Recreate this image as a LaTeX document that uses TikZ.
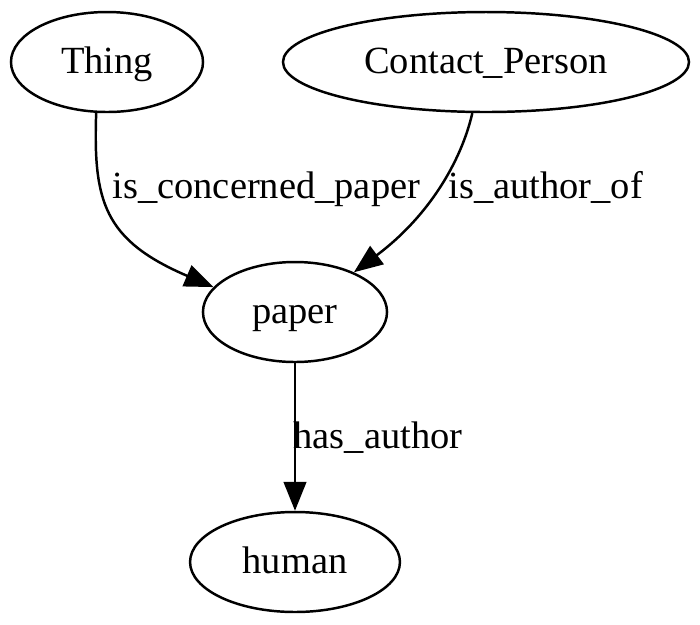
\documentclass[tikz,border=0pt]{standalone}
\usepackage{fontspec}
\setmainfont{Liberation Serif}
\usetikzlibrary{shapes.geometric}
\usetikzlibrary{arrows.meta}

\begin{document}
\begin{tikzpicture}[x=0.364pt,y=0.364pt,yscale=-1,xscale=1,
    concept/.style={draw,ellipse,line width=0.9pt,inner sep=0pt,minimum height=36.4pt,
      text height=11pt,text depth=2.3pt,font=\fontsize{14}{17}\selectfont},
    rel/.style={line width=0.9pt,-{Triangle[length=10.5pt,width=8.2pt]}},
    lbl/.style={inner sep=0pt,anchor=base west,font=\fontsize{14}{17}\selectfont}]
    %set diagram to 700 x 624
    \useasboundingbox (0,0) rectangle (700,624);

%Shape: Ellipse [Thing]
\node [concept,minimum width=69.9pt] (thing) at (107,62) {Thing};
%Shape: Ellipse [Contact_Person]
\node [concept,minimum width=147.8pt] (contact) at (486,62) {Contact\_Person};
%Shape: Ellipse [paper]
\node [concept,minimum width=67pt] (paper) at (295,312) {paper};
%Shape: Ellipse [human]
\node [concept,minimum width=76.4pt] (human) at (295,562) {human};

%Curve Lines
\draw [rel] (thing.258) .. controls +(-3,88) and +(-110,-47) .. (paper.163) ;
\draw [rel] (contact.255) .. controls +(-11,48) and +(75,-56) .. (paper.34) ;
%Straight Lines
\draw [rel] (paper.south) -- (human.north) ;

% Text Node
\node [lbl] (l1) at (112,198) {is\_concerned\_paper};
% Text Node
\node [lbl] (l2) at (448,198) {is\_author\_of};
% Text Node
\node [lbl] (l3) at (293,448) {has\_author};

\end{tikzpicture}
\end{document}
